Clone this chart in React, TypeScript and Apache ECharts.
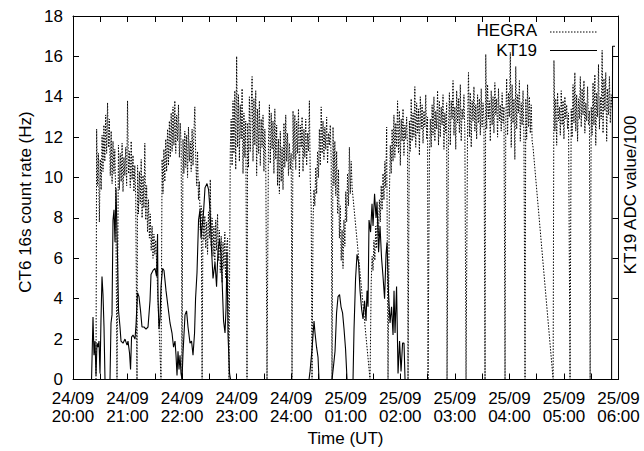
import React, { useEffect, useRef } from "react";
import * as echarts from "echarts";

// ---- axis tick labels (minutes from 24/09 20:00 UT) ----
const xTickLabels = [
  "24/09\n20:00", "24/09\n21:00", "24/09\n22:00", "24/09\n23:00", "24/09\n24:00",
  "25/09\n01:00", "25/09\n02:00", "25/09\n03:00", "25/09\n04:00", "25/09\n05:00", "25/09\n06:00",
];

// ---- HEGRA CT6 16s count rate: zero-rate points between runs (minutes) ----
const hegraZeroTimes = [
  25.3, 48.4, 70.4, 96.8, 119.9, 142, 171.6, 191.4, 213.4, 240.9, 262.9, 284.9,
  326.7, 346.5, 368.5, 390.5, 411.4, 432.3, 453.2, 475.2, 497.2, 528.1, 546.7, 568.8,
];

// ---- HEGRA runs: start / end minute and rates (Hz) ----
const run01 = [12.4, 9.6, 11.2, 7.8, 10.9, 9.4, 12.1, 10.3, 12.6, 10.8, 13.1, 11.2, 13.7, 11.5, 12.9, 10.1, 12.3, 9.7, 11.8, 10.2, 11.4, 9.0];
const run02 = [11.6, 9.4, 11.2, 9.8, 11.7, 9.3, 11.0, 10.1, 11.5, 9.6, 13.8, 10.2, 11.3, 9.5, 11.8, 9.9, 11.1, 9.3, 10.6, 9.0];
const run03 = [10.6, 8.2, 10.3, 8.7, 10.9, 8.0, 10.1, 8.5, 11.7, 7.9, 9.6, 7.3, 8.9, 7.0, 8.2, 6.4, 7.6, 6.0, 7.2, 6.2, 6.9];
const run04 = [10.9, 9.2, 11.4, 9.8, 11.9, 10.3, 12.4, 10.6, 12.8, 11.0, 13.2, 11.3, 13.5, 11.6, 13.8, 11.2, 13.1, 11.8, 13.6, 11.0, 12.7, 11.5];
const run05 = [11.9, 10.2, 12.3, 10.5, 12.1, 10.0, 12.5, 10.8, 11.8, 10.3, 12.4, 10.6, 12.2, 13.5, 11.0, 9.6, 11.3, 8.9, 9.8, 7.4, 8.6];
const run06 = [8.4, 6.9, 8.1, 6.5, 7.8, 6.2, 8.3, 7.0, 9.9, 6.6, 8.0, 6.1, 7.6, 5.8, 7.9, 6.4, 8.2, 5.9, 7.4, 5.3, 7.1, 4.8, 6.8, 5.5, 7.3, 5.0, 6.6, 7.0];
const run07 = [11.4, 12.9, 10.6, 13.8, 11.2, 14.3, 10.4, 16.0, 11.5, 14.1, 10.8, 13.6, 11.9, 14.4, 10.2, 13.2, 11.0, 12.8];
const run08 = [12.7, 10.5, 14.0, 11.3, 13.5, 15.0, 10.8, 13.9, 11.6, 14.3, 10.1, 13.4, 11.2, 13.8, 10.6, 12.9, 11.5, 13.1, 10.3, 12.4, 11.0];
const run09 = [11.8, 13.6, 10.7, 13.2, 11.4, 12.8, 10.2, 13.4, 10.9, 12.6, 9.6, 11.9, 9.2, 12.3, 9.8, 11.5, 9.4, 12.7, 10.5, 13.1, 10.8, 12.2, 10.1, 11.7, 10.4, 11.2];
const run10 = [13.3, 10.9, 13.1, 10.4, 12.8, 11.2, 13.4, 10.0, 12.6, 11.5, 13.0, 10.3, 12.4, 11.0, 12.9, 10.6, 12.2, 11.3, 13.8, 9.8, 8.5];
const run11 = [7.8, 9.4, 8.6, 10.5, 9.2, 11.3, 10.0, 12.4, 10.6, 13.5, 11.2, 12.8, 10.9, 12.5, 11.4, 13.0, 10.7, 12.2, 11.6, 12.6, 10.8];
const run12 = [12.5, 9.6, 11.8, 9.1, 11.3, 8.2, 10.4, 7.0, 8.6, 5.9, 7.4, 5.5, 7.9, 6.6, 9.3, 7.8, 10.2, 8.6, 11.5, 9.2, 10.8, 9.5];
const run13 = [4.8, 6.1, 5.4, 6.9, 5.9, 7.6, 6.5, 8.3, 7.1, 8.9, 7.8, 9.6, 8.4, 10.2, 8.9, 10.8, 9.5, 12.5];
const run14 = [9.1, 11.6, 10.2, 12.4, 10.8, 13.1, 11.0, 12.7, 11.5, 13.8, 11.2, 13.3, 10.6, 12.9, 11.8, 13.4, 11.1, 12.6, 11.9, 13.0, 11.4];
const run15 = [12.8, 11.3, 13.9, 11.8, 13.2, 12.0, 14.5, 11.5, 13.7, 12.2, 13.4, 11.1, 14.0, 12.4, 13.6, 11.7, 13.3, 12.5, 14.1, 11.9, 13.0];
const run16 = [10.8, 12.9, 11.5, 13.6, 12.1, 14.0, 11.8, 13.3, 12.4, 14.3, 11.6, 13.8, 12.0, 13.5, 12.6, 14.1, 11.4, 13.2, 12.2, 13.7];
const run17 = [12.4, 14.2, 11.6, 13.8, 12.9, 14.8, 12.1, 13.5, 11.4, 14.3, 12.7, 13.9, 12.2, 14.6, 11.8, 13.4, 12.9, 14.1, 12.3];
const run18 = [12.6, 15.2, 12.0, 14.2, 11.5, 13.8, 12.8, 14.5, 12.3, 13.6, 11.9, 14.1, 12.7, 13.9, 12.1, 14.4, 12.5, 13.7, 12.9];
const run19 = [16.1, 12.4, 14.6, 12.9, 13.8, 11.8, 14.3, 12.6, 14.0, 12.2, 14.7, 13.1, 13.9, 12.0, 14.4, 12.8, 13.6, 12.3, 14.2, 12.7, 13.5];
const run20 = [12.8, 14.9, 12.1, 14.2, 13.0, 16.2, 11.5, 14.6, 12.7, 13.9, 10.9, 15.5, 12.4, 14.1, 13.2, 14.8, 11.8, 13.7, 12.6, 14.3, 12.0];
const run21 = [13.9, 11.9, 14.6, 12.5, 14.0, 12.2, 13.6, 11.8, 11.5];
const run22 = [15.8, 12.3, 13.9, 11.6, 14.2, 12.8, 13.5, 12.1, 14.3, 12.6, 13.8, 11.9, 14.0, 12.9, 13.6, 12.4, 13.2];
const run23 = [13.4, 12.0, 14.6, 12.7, 15.2, 12.3, 14.1, 11.8, 13.9, 12.9, 15.0, 12.5, 14.4, 13.1, 14.8, 12.2, 13.7, 12.8, 14.5, 12.6, 13.3];
const run24 = [13.5, 12.1, 14.7, 12.6, 15.1, 11.6, 14.2, 13.0, 15.6, 12.4, 14.0, 12.9, 16.3, 12.2, 14.9, 13.3, 15.2, 11.8, 14.4, 13.1, 15.0, 12.7, 14.1, 13.4];

const hegraRunStart = [26, 50, 71, 98, 121, 143, 173, 192, 215, 242, 264, 286, 328, 348, 370, 392, 413, 434, 454, 476, 498, 529, 548, 570];
const hegraRunEnd = [47, 69, 91, 119, 141, 170, 190, 212, 240, 262, 284, 307, 345, 368, 390, 411, 431, 452, 474, 496, 506, 545, 568, 593];
const hegraRunValues = [run01, run02, run03, run04, run05, run06, run07, run08, run09, run10, run11, run12,
  run13, run14, run15, run16, run17, run18, run19, run20, run21, run22, run23, run24];

// ---- KT19 ADC value / 100 ----
const kt19Times = [
  20.4, 22.0, 23.1, 24.2, 25.3, 26.4, 27.5, 28.6, 29.7, 30.8, 31.9, 33.0, 34.1, 35.2, 40.7, 41.8, 42.9, 44.0, 45.1, 46.2, 47.3,
  49.0, 50.1, 51.7, 52.8, 55.0, 57.2, 59.4, 60.5, 62.2, 63.3, 64.4, 66.0, 68.2, 69.3, 71.0, 72.6, 74.3, 75.9, 78.1, 80.3, 82.5,
  84.7, 85.8, 88.0, 90.2, 91.9, 93.0, 93.5, 94.6, 95.7, 96.8, 98.5, 100.1, 102.3, 104.5, 106.7, 108.9, 110.6, 112.2, 113.3,
  114.4, 115.5, 116.6, 117.7, 118.8, 119.9, 121.0, 123.2, 124.9, 126.5, 128.7, 130.4, 132.0, 133.7, 134.8, 136.4, 138.1,
  139.7, 140.8, 142.5, 143.6, 145.2, 147.4, 149.1, 150.7, 152.4, 154.0, 156.2, 157.9, 159.5, 161.2, 162.8, 163.9, 165.6,
  167.2, 168.3, 169.4, 170.5, 172.2, 173.3, 259.6, 260.7, 262.9, 265.1, 266.2, 267.9, 269.5, 270.6, 284.9, 286.6, 288.2,
  289.9, 291.5, 293.2, 294.8, 296.5, 298.1, 299.8, 301.4, 308.0, 309.1, 310.8, 312.4, 314.1, 315.7, 317.4, 319.0, 320.7,
  322.3, 323.4, 324.5, 325.6, 327.3, 328.9, 330.0, 331.7, 333.3, 334.4, 336.1, 337.7, 339.4, 341.0, 342.7, 344.3, 345.4,
  347.1, 348.7, 350.4, 352.0, 353.1, 354.2, 355.9, 357.5, 359.2, 360.8, 362.5, 364.1, 365.2, 592.4, 593.5, 596.2,
];
const kt19Values = [
  0, 3.1, 1.2, 1.9, 0.2, 1.8, 1.6, 1.9, 0.3, 3.0, 5.1, 4.2, 2.6, 0, 0, 2.8, 3.2, 7.9, 8.4, 6.8, 9.5,
  6.0, 3.4, 2.6, 1.9, 1.8, 2.0, 1.7, 1.9, 1.3, 0.5, 2.1, 2.2, 2.0, 2.7, 4.3, 4.1, 3.4, 2.6, 2.6, 2.5, 2.6,
  3.9, 5.2, 5.4, 5.5, 5.1, 7.2, 4.0, 2.5, 3.0, 4.6, 5.5, 5.4, 4.4, 3.6, 2.8, 2.3, 1.6, 1.9, 1.2,
  0.2, 1.4, 0.5, 1.2, 0.3, 0, 1.3, 3.2, 3.4, 2.6, 1.8, 1.9, 1.2, 2.3, 4.0, 5.3, 7.9,
  8.4, 7.0, 7.8, 8.3, 9.5, 9.7, 9.4, 8.4, 6.4, 5.0, 5.8, 4.6, 6.4, 6.9, 6.2, 5.0, 2.9,
  2.3, 3.5, 6.3, 2.2, 0.3, 0, 0, 0.4, 1.5, 2.9, 2.3, 1.6, 1.1, 0, 0, 0.7, 1.4,
  3.3, 4.1, 4.2, 3.6, 3.3, 2.5, 1.5, 0, 0, 2.5, 5.0, 6.2, 5.8, 4.4, 3.5, 3.0, 3.9,
  2.9, 4.4, 3.6, 7.9, 7.3, 8.7, 7.6, 9.2, 8.0, 8.8, 6.3, 7.6, 6.0, 5.1, 4.0, 6.2, 6.8,
  4.2, 2.8, 3.6, 2.2, 4.4, 2.3, 4.6, 0.3, 1.9, 0.4, 1.8, 1.8, 0, 0, 16.5, 16.5,
];

const FONT = "Liberation Sans, Arial, Helvetica, sans-serif";

function buildHegra(): [number, number][] {
  const pts: [number, number][] = hegraZeroTimes.map((t) => [t, 0] as [number, number]);
  hegraRunValues.forEach((vals, r) => {
    const s = hegraRunStart[r];
    const e = hegraRunEnd[r];
    const n = vals.length;
    vals.forEach((v, i) => {
      pts.push([s + (n > 1 ? (i * (e - s)) / (n - 1) : 0), v]);
    });
  });
  pts.sort((a, b) => a[0] - b[0]);
  return pts;
}

export default function App() {
  const ref = useRef<HTMLDivElement>(null);
  useEffect(() => {
    document.body.style.margin = "0";
    if (!ref.current) return;
    const chart = echarts.init(ref.current, undefined, { renderer: "svg" });
    const kt19Data = kt19Times.map((t, i) => [t, kt19Values[i]]);
    const axisLine = { show: true, onZero: false, lineStyle: { color: "#000", width: 1 } };
    const tick = { show: true, inside: true, length: 6, lineStyle: { color: "#000", width: 1 } };
    chart.setOption({
      animation: false,
      backgroundColor: "#fff",
      textStyle: { fontFamily: FONT },
      grid: { left: 73, right: 25.5, top: 16, bottom: 71.5 },
      xAxis: [
        {
          type: "value", position: "bottom", min: 0, max: 600, interval: 30,
          axisLine, axisTick: tick, splitLine: { show: false },
          axisLabel: {
            show: true, color: "#000", fontSize: 17, fontFamily: FONT, lineHeight: 18, margin: 9.5,
            formatter: (v: number) => (v % 60 === 0 ? xTickLabels[v / 60] : ""),
          },
        },
        {
          type: "value", position: "top", min: 0, max: 600, interval: 30,
          axisLine, axisTick: tick, splitLine: { show: false }, axisLabel: { show: false },
        },
      ],
      yAxis: [
        {
          type: "value", position: "left", min: 0, max: 18, interval: 2,
          axisLine, axisTick: tick, splitLine: { show: false },
          axisLabel: { color: "#000", fontSize: 17, fontFamily: FONT, margin: 10 },
        },
        {
          type: "value", position: "right", min: 0, max: 18, interval: 2,
          axisLine, axisTick: tick, splitLine: { show: false }, axisLabel: { show: false },
        },
      ],
      series: [
        {
          name: "HEGRA", type: "line", xAxisIndex: 0, yAxisIndex: 0, data: buildHegra(),
          symbol: "none", showSymbol: false, clip: true,
          lineStyle: { color: "#000", width: 1, type: [1.5, 1.5] },
        },
        {
          name: "KT19", type: "line", xAxisIndex: 0, yAxisIndex: 1, data: kt19Data,
          symbol: "none", showSymbol: false, clip: true,
          lineStyle: { color: "#000", width: 1.1 },
        },
      ],
      graphic: [
        { type: "text", x: 537, y: 30.5, style: { text: "HEGRA", fontSize: 17, fontFamily: FONT, fill: "#000", align: "right", verticalAlign: "middle" } },
        { type: "line", shape: { x1: 550, y1: 32, x2: 597, y2: 32 }, style: { stroke: "#000", lineWidth: 1, lineDash: [1.5, 1.5] } },
        { type: "text", x: 537, y: 50, style: { text: "KT19", fontSize: 17, fontFamily: FONT, fill: "#000", align: "right", verticalAlign: "middle" } },
        { type: "line", shape: { x1: 550, y1: 50.5, x2: 597, y2: 50.5 }, style: { stroke: "#000", lineWidth: 1.1 } },
        { type: "text", x: 345.5, y: 438, style: { text: "Time (UT)", fontSize: 17, fontFamily: FONT, fill: "#000", align: "center", verticalAlign: "middle" } },
        { type: "text", x: 25, y: 202, rotation: Math.PI / 2, style: { text: "CT6 16s count rate (Hz)", fontSize: 17, fontFamily: FONT, fill: "#000", align: "center", verticalAlign: "middle" } },
        { type: "text", x: 630, y: 195, rotation: Math.PI / 2, style: { text: "KT19 ADC value/100", fontSize: 17, fontFamily: FONT, fill: "#000", align: "center", verticalAlign: "middle" } },
      ],
    });
    return () => chart.dispose();
  }, []);
  return <div ref={ref} style={{ position: "fixed", left: 0, top: 0, width: 644, height: 451 }} />;
}
